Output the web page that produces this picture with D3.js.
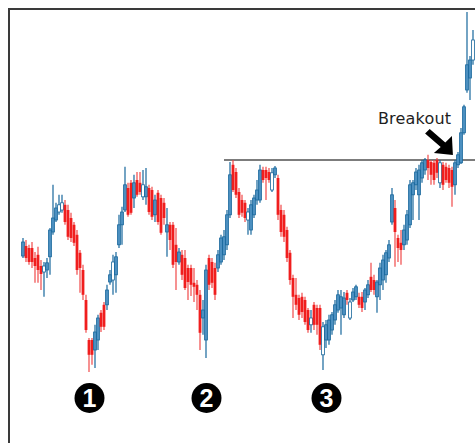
<!DOCTYPE html>
<html>
<head>
<meta charset="utf-8">
<script src="https://cdn.jsdelivr.net/npm/d3@7"></script>
<style>
  html, body { margin: 0; padding: 0; background: #fff; overflow: hidden; }
</style>
</head>
<body>
<div id="chart"></div>
<script>
const width = 475;
const height = 443;

// OHLC per session (price units)
const open = [
  36, 38.5, 38, 38, 35.5, 36.3, 33.5, 32, 32.5, 35.8,
  42, 45, 47, 47.5, 48.8, 47.5, 45.5, 43.8, 41.3, 36.8,
  32.5, 25, 15, 15, 12.5, 15, 21.8, 23.8, 23.8, 29.5,
  30, 31.3, 38.8, 43.8, 47.5, 53, 54.3, 50.5, 55, 54.3,
  50.8, 50.8, 53, 52.5, 46.3, 51.8, 50.5, 49.3, 42, 43.8,
  43.8, 38.8, 34.5, 36.3, 35.5, 33, 33, 29.3, 28.8, 26.3,
  20.5, 15, 35.5, 34.5, 33, 33, 34.5, 36.3, 38.8, 46.3,
  58.8, 57, 52, 50, 49.3, 45, 42.5, 46.3, 50, 50,
  57.5, 57.5, 57, 52.5, 56.3, 55.5, 47.5, 46.3, 42.5, 36.8,
  30.5, 26.3, 25.5, 25.8, 25, 22.5, 18.8, 23.8, 23, 23,
  11.3, 15, 15, 17.5, 20, 22.5, 23, 21.3, 26.8, 20.5,
  25, 25.8, 25.8, 25.8, 24.5, 26.3, 30.8, 30, 25.8, 28.8,
  30, 31.3, 35.5, 44.5, 48, 40.5, 39.3, 38.8, 40, 43.8,
  51.3, 53.8, 51.3, 55.5, 57.5, 60, 59.5, 59.3, 60, 54.3,
  58.8, 58.3, 58, 57.5, 53.8, 58.8, 59.3, 66.8, 77.5, 80.5,
  85
];
const high = [
  40.5, 40, 38.8, 39.5, 37, 38.3, 35, 34.5, 35.5, 43,
  53.8, 49.3, 51.3, 51.3, 50, 48.8, 46.8, 44.5, 42.5, 37.5,
  33.8, 26.3, 15.5, 15.5, 18.8, 21.3, 22.5, 24.5, 28.8, 32.5,
  36.3, 37, 46.3, 48.3, 58.3, 54.3, 55, 56.3, 57, 57,
  57.5, 58, 53.8, 53.3, 51.3, 52.5, 51.3, 50.5, 48, 44.5,
  44.5, 43, 38, 37.5, 37.5, 33.8, 33.8, 33, 30, 27.5,
  25, 33.8, 36.3, 35.5, 34.3, 37.5, 41.3, 42.5, 47.5, 59.5,
  60, 58, 53, 51.3, 50, 48, 50, 51.3, 55, 58.8,
  58.3, 58.3, 58, 58, 58.5, 56.3, 48.8, 47.5, 43.3, 37.5,
  31.3, 30.5, 26.3, 26.8, 25.8, 23, 22.5, 24.5, 23.8, 23.8,
  19.5, 20, 21.3, 22, 25, 27.5, 27.5, 27, 27.5, 25.5,
  28, 28.8, 26.8, 27, 28, 30, 34.3, 31.3, 30, 34.3,
  36.3, 37.5, 40, 53, 50, 41.3, 42.5, 43.8, 47.5, 55,
  55, 58, 58.8, 60, 60.5, 61.3, 60, 60, 60.5, 60,
  59.5, 59.3, 58.8, 58.3, 60, 62, 68, 73.8, 97, 86,
  92.5
];
const low = [
  35.5, 34.5, 33.8, 33, 29.3, 29.3, 27.5, 25.8, 30.5, 31.3,
  41.3, 44.5, 46.3, 46.8, 43.8, 40, 39.5, 38.5, 31.3, 26.8,
  25, 16.8, 7, 8.8, 8, 12.5, 17, 17.5, 22.5, 28.8,
  26.3, 26.8, 38, 38.8, 47, 45.8, 46.3, 48, 50.8, 51.3,
  50, 48.8, 46.3, 45, 44.5, 43.8, 41.3, 43.8, 35.8, 37.5,
  33, 27.5, 33.8, 30, 27.5, 25, 26, 24.5, 22.5, 12.5,
  16.3, 10.5, 27.5, 28, 25, 32, 33.8, 35, 37.5, 45.5,
  52, 50.5, 45.5, 45.8, 44.5, 41.3, 41.3, 45.5, 48.8, 49.3,
  54.3, 50, 54.3, 52, 55.5, 45, 40.8, 39.5, 34.5, 28.8,
  20.5, 22.5, 20, 20.5, 18.8, 16.8, 16.8, 17.5, 16.3, 12.5,
  7.5, 13, 13.8, 16.3, 18.8, 21.8, 16.3, 20.5, 23.8, 20,
  24.5, 25, 23, 22, 22.5, 25.5, 27, 26.3, 21.8, 25,
  27.5, 29.3, 34.5, 43.8, 33.3, 34.5, 33.8, 37.5, 38.8, 43,
  45, 52.5, 45, 54.3, 56.3, 55, 53.8, 53.8, 55.5, 53,
  52.5, 54.3, 53, 48.3, 51.3, 58, 59, 66.3, 76.8, 75,
  83.8
];
const close = [
  39.5, 35.5, 34.5, 34.5, 33.5, 32.5, 31.5, 33.5, 34.3, 42.5,
  45.5, 48, 48.8, 49.3, 44.5, 40.8, 40.5, 39.3, 32.5, 33,
  26.3, 17.5, 11.3, 11.3, 17, 20.5, 18.3, 18.3, 27.5, 31.3,
  34.5, 35.8, 43.8, 47, 53.8, 46.3, 46.8, 54.3, 51.3, 52,
  53.8, 53.3, 47, 45.8, 50, 44.5, 41.8, 45.5, 43.8, 40,
  33.8, 34.5, 37, 31.3, 28, 29.5, 28.8, 28.3, 26.3, 16.8,
  22.5, 32.5, 28.8, 29.3, 26.3, 36.3, 40.5, 40.8, 46.3, 56.3,
  52.5, 51.3, 46.3, 46.8, 45.5, 47, 48.8, 50.5, 52.5, 57.5,
  55, 55.5, 55, 56.8, 58, 46.3, 42, 40.8, 35.5, 30,
  25.8, 23.8, 21.3, 22, 19.5, 17.5, 20.5, 18.8, 18.8, 13.8,
  18.3, 18.8, 20, 21.3, 23.8, 26.3, 25.8, 25.5, 25, 24.5,
  27, 28.3, 23.8, 23, 27.5, 28.8, 27.5, 27.5, 29.5, 33,
  35, 36.8, 38.8, 51.3, 42, 38, 37.5, 42.5, 46.3, 53.8,
  54.3, 57, 57.5, 59.3, 60, 58, 56.3, 55, 56.8, 59.3,
  53.8, 55, 54.3, 53.3, 59.3, 61.3, 66.8, 73.3, 83.8, 85,
  90
];
// sessions drawn with a white body
const hollow = [7, 12, 13, 30, 40, 75, 83, 96, 100, 109, 139, 150];

// annotations
const resistance = { level: 60, from: 67 };
const bottoms = [
  { idx: 22, text: "1" },
  { idx: 61, text: "2" },
  { idx: 101, text: "3" }
];
const breakout = { idx: 143.3, price: 61.25, text: "Breakout" };

const candles = open.map((o, i) => ({
  i, o, h: high[i], l: low[i], c: close[i], hollow: hollow.includes(i)
}));

const svg = d3.select("#chart")
  .append("svg")
  .attr("width", width)
  .attr("height", height);

const x = d3.scaleLinear().domain([0, candles.length - 1]).range([23, 473]);
const y = d3.scaleLinear().domain([0, 100]).range([400, 0]);

const bodyW = 2.8;
const upStroke = "#17679c", upFill = "#4b8fc0";
const downColor = "#f01e1e", downWick = "#f04848";

// frame (left + top)
svg.append("path")
  .attr("d", `M9,${height} L9,9 L${width},9`)
  .attr("fill", "none")
  .attr("stroke", "#3a3a3a")
  .attr("stroke-width", 2);

// resistance line
svg.append("line")
  .attr("x1", x(resistance.from))
  .attr("x2", width)
  .attr("y1", y(resistance.level))
  .attr("y2", y(resistance.level))
  .attr("stroke", "#505050")
  .attr("stroke-width", 1.7);

const g = svg.append("g").attr("class", "candles");

const c = g.selectAll("g")
  .data(candles)
  .join("g");

// wicks
c.append("line")
  .attr("x1", d => x(d.i))
  .attr("x2", d => x(d.i))
  .attr("y1", d => y(d.h))
  .attr("y2", d => y(d.l))
  .attr("stroke", d => d.c >= d.o ? upStroke : downWick)
  .attr("stroke-width", 1.2);

// bodies
c.append("rect")
  .attr("x", d => x(d.i) - bodyW / 2)
  .attr("width", bodyW)
  .attr("y", d => y(Math.max(d.o, d.c)))
  .attr("height", d => Math.max(1.2, y(Math.min(d.o, d.c)) - y(Math.max(d.o, d.c))))
  .attr("fill", d => d.c >= d.o ? (d.hollow ? "#fff" : upFill) : downColor)
  .attr("stroke", d => d.c >= d.o ? upStroke : "none")
  .attr("stroke-width", 0.8);

// numbered bottoms
const b = svg.append("g").selectAll("g")
  .data(bottoms)
  .join("g")
  .attr("transform", d => `translate(${x(d.idx) + 0.5},398)`);

b.append("circle")
  .attr("r", 15)
  .attr("fill", "#000");

b.append("text")
  .attr("text-anchor", "middle")
  .attr("dy", "0.36em")
  .attr("fill", "#fff")
  .attr("font-family", "Liberation Sans, Arial, sans-serif")
  .attr("font-weight", "bold")
  .attr("font-size", 25)
  .text(d => d.text);

// breakout label + arrow
const bx = x(breakout.idx), by = y(breakout.price);
const ann = svg.append("g").attr("transform", `translate(${bx},${by})`);

ann.append("path")
  .attr("d", "M0,0 L-1,-19 L-7.6,-12.6 L-23.2,-26 L-27.8,-21.4 L-12.2,-8 L-19,-2 Z")
  .attr("fill", "#000");

ann.append("text")
  .attr("x", -75)
  .attr("y", -31)
  .attr("font-family", "DejaVu Sans, sans-serif")
  .attr("font-size", 16)
  .attr("letter-spacing", 0.2)
  .attr("fill", "#1e1e1e")
  .text(breakout.text);
</script>
</body>
</html>
